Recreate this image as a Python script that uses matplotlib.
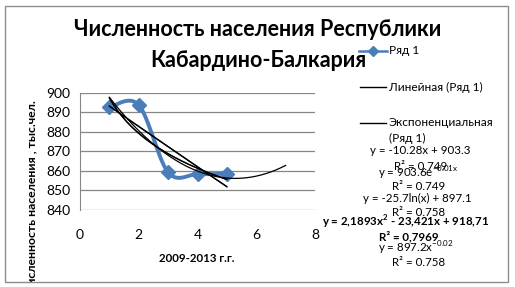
import numpy as np
import matplotlib
matplotlib.use("Agg")
import matplotlib.pyplot as plt
from matplotlib.patches import Rectangle
from matplotlib.transforms import Bbox

# ---- data ----
years_x = [1, 2, 3, 4, 5]
population = [892.5, 893.7, 859.3, 858.3, 858.6]
x_ticks = [0, 2, 4, 6, 8]
y_ticks = [840, 850, 860, 870, 880, 890, 900]
title = "Численность населения Республики\nКабардино-Балкария"
x_label = "2009-2013 г.г."
y_label = "Численность населения , тыс.чел."
legend_labels = ["Ряд 1", "Линейная (Ряд 1)", "Экспоненциальная\n(Ряд 1)"]
eq_labels = [
    ("y = -10.28x + 903.3", False),
    ("R² = 0.749", False),
    (r"y = 903.6e$^{\mathregular{-0.01x}}$", False),
    ("R² = 0.749", False),
    ("y = -25.7ln(x) + 897.1", False),
    ("R² = 0.758", False),
    (r"y = 2,1893x$^{\mathregular{2}}$ - 23,421x + 918,71", True),
    ("R² = 0,7969", True),
    (r"y = 897.2x$^{\mathregular{-0.02}}$", False),
    ("R² = 0.758", False),
]
poly_forward = 2

W, H = 515, 287
plt.rcParams['font.family'] = ['Lato', 'DejaVu Sans']
fig = plt.figure(figsize=(W / 100, H / 100), dpi=100)

def fx(px):
    return px / W

def fy(py):
    return 1 - py / H

ax = fig.add_axes([fx(80), fy(210), fx(315) - fx(80), fy(92.7) - fy(210)])
ax.set_xlim(0, 8)
ax.set_ylim(840, 900)

x = np.array(years_x, dtype=float)
y = np.array(population, dtype=float)

# Excel-like smoothed line (Bezier with Catmull-Rom control points)
P = np.column_stack([x, y])
n = len(P)
curve = []
for i in range(n - 1):
    p_prev = P[i - 1] if i > 0 else P[i]
    p_next2 = P[i + 2] if i + 2 < n else P[i + 1]
    c1 = P[i] + (P[i + 1] - p_prev) / 6
    c2 = P[i + 1] - (p_next2 - P[i]) / 6
    t = np.linspace(0, 1, 40)[:, None]
    seg = ((1 - t) ** 3) * P[i] + 3 * ((1 - t) ** 2) * t * c1 + 3 * (1 - t) * t ** 2 * c2 + t ** 3 * P[i + 1]
    curve.append(seg)
curve = np.vstack(curve)
blue = '#4A7EBB'
ax.plot(curve[:, 0], curve[:, 1], color=blue, lw=2.8, zorder=3, solid_capstyle='round')
ax.plot(x, y, ls='none', marker='D', ms=7, color=blue, zorder=4)

# trendlines
xs = np.linspace(1, 5, 100)
k, b = np.polyfit(x, y, 1)
ax.plot(xs, k * xs + b, color='black', lw=0.9, zorder=5)
ke, be = np.polyfit(x, np.log(y), 1)
ax.plot(xs, np.exp(be) * np.exp(ke * xs), color='black', lw=0.9, zorder=5)
kl, bl = np.polyfit(np.log(x), y, 1)
ax.plot(xs, kl * np.log(xs) + bl, color='black', lw=0.9, zorder=5)
kp, bp = np.polyfit(np.log(x), np.log(y), 1)
ax.plot(xs, np.exp(bp) * xs ** kp, color='black', lw=0.9, zorder=5)
xq = np.linspace(1, 5 + poly_forward, 150)
cq = np.polyfit(x, y, 2)
ax.plot(xq, np.polyval(cq, xq), color='black', lw=0.9, zorder=5)

ax.set_xticks(x_ticks)
ax.set_yticks(y_ticks)
ax.grid(axis='y', color='#868686', lw=0.9)
for s in ['top', 'right', 'bottom']:
    ax.spines[s].set_visible(False)
ax.spines['left'].set_color('#868686')
ax.tick_params(axis='both', length=0, labelsize=10)
ax.tick_params(axis='y', pad=7)
ax.tick_params(axis='x', pad=14)
ax.set_axisbelow(True)

# title
fig.text(fx(258), fy(30), title.split("\n")[0], ha='center', va='center', fontsize=15.5, fontweight='bold')
fig.text(fx(258), fy(60), title.split("\n")[1], ha='center', va='center', fontsize=15.5, fontweight='bold')

# axis labels
fig.text(fx(197), fy(258), x_label, ha='center', va='center', fontsize=8.3, fontweight='bold')
yl = fig.text(fx(32), fy(100), y_label, ha='center', va='top', rotation=90, fontsize=8.8, fontweight='bold')
yl.set_clip_box(Bbox.from_extents(0, (H - 282), W, H))
yl.set_clip_on(True)

# legend
fig.add_artist(plt.Line2D([fx(359), fx(373), fx(387)], [fy(51)] * 3, color=blue, lw=1.8, marker='D',
                          ms=5, markevery=[1], transform=fig.transFigure))
for yy in [87, 123]:
    fig.add_artist(plt.Line2D([fx(360), fx(386)], [fy(yy), fy(yy)], color='black', lw=1.0,
                              transform=fig.transFigure))
fig.text(fx(389), fy(51), legend_labels[0], ha='left', va='center', fontsize=8.6)
fig.text(fx(389), fy(87), legend_labels[1], ha='left', va='center', fontsize=8.6)
fig.text(fx(389), fy(123), legend_labels[2].split("\n")[0], ha='left', va='center', fontsize=8.6)
fig.text(fx(389), fy(138), legend_labels[2].split("\n")[1], ha='left', va='center', fontsize=8.6)

# equation labels
eq_pos = [(420, 151), (421, 167), (418, 173), (419, 187), (417, 198), (419, 212),
          (406, 222), (409, 237), (416, 248), (419, 263)]
for (txt, bold), (px, py) in zip(eq_labels, eq_pos):
    fig.text(fx(px), fy(py), txt, ha='center', va='center', fontsize=8.3,
             fontweight='bold' if bold else 'normal')

# outer frame
fig.add_artist(Rectangle((fx(5), fy(282)), fx(508) - fx(5), fy(6) - fy(282), fill=False,
                         edgecolor='#8C8C8C', lw=1.0, transform=fig.transFigure))

fig.savefig('out.png', dpi=100)
